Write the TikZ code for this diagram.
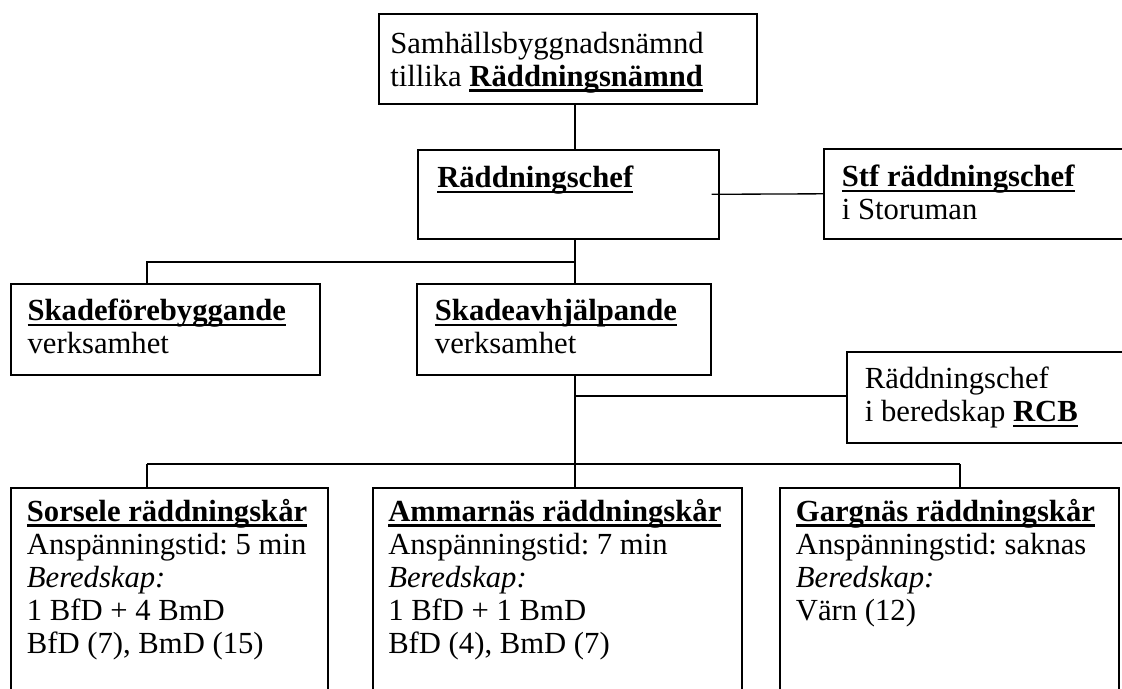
\documentclass[tikz,border=0pt]{standalone}
\usepackage{fontspec}
\setmainfont{Liberation Serif}
\frenchspacing
\newsavebox\ulbox
\newcommand\ulb[1]{\sbox\ulbox{\bfseries #1}\rlap{\rule[-4pt]{\wd\ulbox}{1.8pt}}\usebox\ulbox}
\newcommand\txtfont{\fontsize{23pt}{24.75pt}\selectfont\frenchspacing}
\newcommand\stt{\rule{0pt}{20pt}}
\begin{document}
\begin{tikzpicture}[x=0.75pt,y=-0.75pt,
  box/.style={draw,line width=1.2pt,inner sep=0pt,anchor=north west},
  lbl/.style={anchor=north west,inner sep=0pt,align=left,font=\txtfont},
  conn/.style={line width=1pt}]
\clip (0,0) rectangle (1122,689);
\fill[white] (0,0) rectangle (1122,689);
% boxes
\node[box,minimum width=283.5pt,minimum height=67.5pt] (top) at (378,13) {};
\node[box,minimum width=225.75pt,minimum height=66.75pt] (chef) at (417,149) {};
\node[box,minimum width=237.75pt,minimum height=67.5pt] (stf) at (823,148) {};
\node[box,minimum width=231.75pt,minimum height=68.25pt] (skf) at (10,283) {};
\node[box,minimum width=220.5pt,minimum height=68.25pt] (ska) at (416,283) {};
\node[box,minimum width=220.5pt,minimum height=68.25pt] (rcb) at (846,351) {};
\node[box,minimum width=237.75pt,minimum height=159.75pt] (sor) at (10,487) {};
\node[box,minimum width=276.75pt,minimum height=159.75pt] (amm) at (372,487) {};
\node[box,minimum width=254.25pt,minimum height=159.75pt] (gar) at (779,487) {};
% texts
\node[lbl] (ttop) at ([shift={(9pt,-10pt)}]top.north west) {\stt Samhällsbyggnadsnämnd\\tillika \ulb{Räddningsnämnd}};
\node[lbl] (tchef) at ([shift={(15pt,-9pt)}]chef.north west) {\stt\ulb{Räddningschef}};
\node[lbl] (tstf) at ([shift={(14pt,-9pt)}]stf.north west) {\stt\ulb{Stf räddningschef}\\i Storuman};
\node[lbl] (tskf) at ([shift={(13pt,-8pt)}]skf.north west) {\stt\ulb{Skadeförebyggande}\\verksamhet};
\node[lbl] (tska) at ([shift={(14pt,-8pt)}]ska.north west) {\stt\ulb{Skadeavhjälpande}\\verksamhet};
\node[lbl] (trcb) at ([shift={(14pt,-8pt)}]rcb.north west) {\stt Räddningschef\\i beredskap \ulb{RCB}};
\node[lbl] (tsor) at ([shift={(12.5pt,-5.5pt)}]sor.north west) {\stt\ulb{Sorsele räddningskår}\\Anspänningstid: 5 min\\\textit{Beredskap:}\\1 BfD + 4 BmD\\BfD (7), BmD (15)};
\node[lbl] (tamm) at ([shift={(12pt,-5.5pt)}]amm.north west) {\stt\ulb{Ammarnäs räddningskår}\\Anspänningstid: 7 min\\\textit{Beredskap:}\\1 BfD + 1 BmD\\BfD (4), BmD (7)};
\node[lbl] (tgar) at ([shift={(12.5pt,-5.5pt)}]gar.north west) {\stt\ulb{Gargnäs räddningskår}\\Anspänningstid: saknas\\\textit{Beredskap:}\\Värn (12)};
% connector coordinates
\coordinate (sp) at (575,0);
\coordinate (j1) at (575,262);
\coordinate (j1l) at (147,262);
\coordinate (jr) at (575,396);
\coordinate (j2) at (575,464);
\coordinate (j2l) at (147,464);
\coordinate (j2r) at (960,464);
% connectors
\draw[conn] (top.south -| sp) -- (chef.north -| sp);
\draw[conn] ([xshift=-6pt]chef.east) -- (stf.west);
\draw[conn] (chef.south -| sp) -- (j1) -- (j1l) -- (skf.north -| j1l);
\draw[conn] (j1) -- (ska.north -| sp);
\draw[conn] (ska.south -| sp) -- (j2);
\draw[conn] (jr) -- (rcb.west |- jr);
\draw[conn] (j2l) -- (j2r);
\draw[conn] (j2l) -- (sor.north -| j2l);
\draw[conn] (j2) -- (amm.north -| j2);
\draw[conn] (j2r) -- (gar.north -| j2r);
\end{tikzpicture}
\end{document}
